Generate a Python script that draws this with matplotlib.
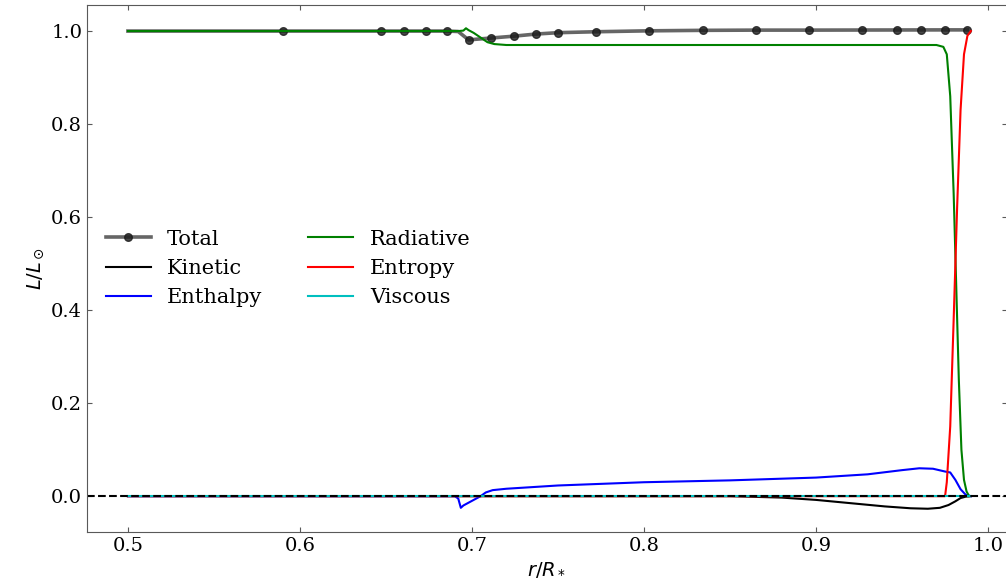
import numpy as np
import matplotlib
matplotlib.use("Agg")
import matplotlib.pyplot as plt

plt.rcParams['font.family'] = 'DejaVu Serif'
plt.rcParams['mathtext.fontset'] = 'dejavusans'

# total luminosity (markers at the sampled radii)
r_total = [0.5, 0.59, 0.647, 0.6605, 0.673, 0.6855, 0.692, 0.695, 0.698, 0.711,
           0.7244, 0.737, 0.750, 0.772, 0.803, 0.834, 0.865, 0.896, 0.927, 0.947,
           0.961, 0.975, 0.988]
L_total = [1.0, 1.0, 1.0, 1.0, 1.0, 1.0, 0.999, 0.99, 0.981, 0.985,
           0.989, 0.9935, 0.9965, 0.9985, 1.0005, 1.0015, 1.002, 1.002, 1.0022, 1.0023,
           1.0024, 1.0025, 1.0025]
total_marks = [1, 2, 3, 4, 5, 8, 9, 10, 11, 12, 13, 14, 15, 16, 17, 18, 19, 20, 21, 22]

r_rad = [0.5, 0.692, 0.695, 0.6965, 0.698, 0.701, 0.705, 0.709, 0.713, 0.72, 0.97,
         0.974, 0.976, 0.978, 0.980, 0.9815, 0.983, 0.9845, 0.986, 0.9875, 0.989]
L_rad = [1.0, 1.0, 1.001, 1.006, 1.002, 0.996, 0.986, 0.976, 0.972, 0.970, 0.970,
         0.966, 0.95, 0.86, 0.65, 0.45, 0.25, 0.10, 0.035, 0.01, 0.0]

r_ent = [0.5, 0.975, 0.976, 0.978, 0.980, 0.982, 0.984, 0.986, 0.988, 0.99]
L_ent = [0.0, 0.0, 0.03, 0.15, 0.38, 0.62, 0.83, 0.95, 0.99, 1.0]

r_kin = [0.5, 0.85, 0.88, 0.9, 0.92, 0.94, 0.955, 0.965, 0.972, 0.977,
         0.981, 0.984, 0.987, 0.99]
L_kin = [0.0, 0.0, -0.003, -0.008, -0.015, -0.022, -0.026, -0.027, -0.025, -0.019,
         -0.011, -0.004, -0.001, 0.0]

r_enth = [0.5, 0.690, 0.692, 0.6935, 0.695, 0.700, 0.705, 0.708, 0.712, 0.72,
          0.75, 0.8, 0.85, 0.9, 0.93, 0.95, 0.96, 0.968, 0.975, 0.978,
          0.981, 0.984, 0.987, 0.99]
L_enth = [0.0, 0.0, -0.005, -0.025, -0.02, -0.01, 0.0, 0.008, 0.013, 0.016,
          0.023, 0.030, 0.034, 0.040, 0.047, 0.056, 0.060, 0.059, 0.053, 0.051,
          0.035, 0.015, 0.003, 0.0]

r_visc = [0.5, 0.99]
L_visc = [0.0, 0.0]

fig = plt.figure(figsize=(10.06, 5.84), dpi=100)
ax = fig.add_axes([87 / 1006, 52 / 584, 920 / 1006, 527 / 584])

ax.plot(r_total, L_total, '-', color='0.25', lw=2.6, alpha=0.8, marker='o',
        ms=5.5, mfc='0.1', mec='0.1', markevery=total_marks, label='Total')
ax.plot(r_kin, L_kin, color='black', lw=1.5, label='Kinetic')
ax.plot(r_enth, L_enth, color='blue', lw=1.5, label='Enthalpy')
ax.plot(r_rad, L_rad, color='green', lw=1.5, label='Radiative')
ax.plot(r_ent, L_ent, color='red', lw=1.5, label='Entropy')
ax.plot(r_visc, L_visc, color='c', lw=1.5, label='Viscous')
ax.axhline(0, color='black', ls='--', lw=1.5)

ax.set_xlim(0.4762, 1.0110)
ax.set_ylim(-0.077, 1.056)
ax.set_xticks([0.5, 0.6, 0.7, 0.8, 0.9, 1.0])
ax.set_yticks([0.0, 0.2, 0.4, 0.6, 0.8, 1.0])
ax.set_xlabel(r'$r/R_*$', fontsize=14)
ax.set_ylabel(r'$L/L_\odot$', fontsize=14)
ax.tick_params(direction='in', top=True, right=True, labelsize=14, colors='0.35',
               labelcolor='black')
for s in ax.spines.values():
    s.set_color('0.35')

ax.legend(ncol=2, frameon=False, fontsize=15, loc='center left',
          bbox_to_anchor=(0.0, 0.5), columnspacing=2.2, handlelength=2.15)

fig.savefig('out.png', dpi=100)
